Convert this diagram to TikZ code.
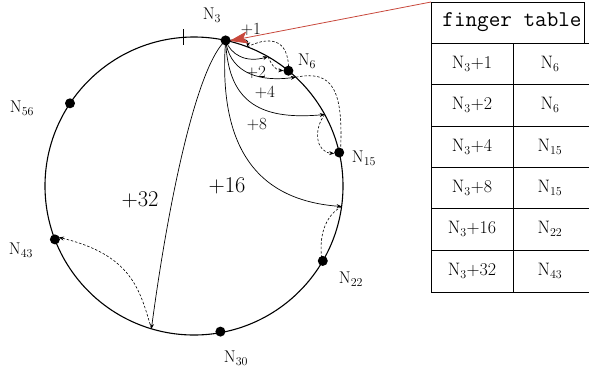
\documentclass[tikz,border=0pt]{standalone}
\usetikzlibrary{arrows.meta}
\definecolor{redline}{RGB}{200,72,60}
\begin{document}
\begin{tikzpicture}[x=1pt,y=-1pt,
  dot/.style={circle,fill=black,inner sep=0pt,minimum size=10pt},
  lab/.style={font=\fontsize{17}{19}\selectfont,inner sep=0pt},
  slab/.style={font=\fontsize{17}{19}\selectfont,inner sep=0pt},
  blab/.style={font=\fontsize{22.5}{24}\selectfont,inner sep=0pt},
  tlab/.style={font=\fontsize{18}{20}\selectfont,inner sep=0pt},
  finger/.style={line width=0.7pt,-{Stealth[length=5pt,width=4pt]}},
  hop/.style={line width=0.6pt,dashed,dash pattern=on 2.5pt off 1.8pt,-{Stealth[length=5pt,width=4pt]}},
  tline/.style={line width=0.9pt}]
\useasboundingbox (0,0) rectangle (589,376);
% ring
\draw[line width=1.1pt] (194,186) circle[radius=149];
\draw[line width=0.9pt] (183,29) -- (183,45);
% points on ring
\coordinate (c3) at (225.6,40.4);
\coordinate (c6) at (288.4,70.7);
\coordinate (c15) at (339.2,152.5);
\coordinate (c22) at (322.8,260.9);
\coordinate (c30) at (220.4,331.6);
\coordinate (c43) at (54.9,239.4);
\coordinate (c56) at (70,103.3);
\coordinate (p1) at (247.4,46.9);
\coordinate (p2) at (268,56.7);
\coordinate (p4) at (295.8,77.2);
\coordinate (p8) at (324.7,114.5);
\coordinate (p16) at (341.6,206.5);
\coordinate (p32) at (151.4,328.8);
% fingers
\draw[finger] (c3) .. controls (238,40) and (249,37) .. (p1);
\draw[finger] (c3) .. controls (231,55) and (246,63) .. (p2);
\draw[finger] (c3) .. controls (229,68) and (252,83) .. (p4);
\draw[finger] (c3) .. controls (228,98) and (255,121) .. (p8);
\draw[finger] (c3) .. controls (218,145) and (255,200) .. (p16);
\draw[finger] (c3) .. controls (198,65) and (170,190) .. (p32);
% hops
\draw[hop] (p1) .. controls (265,38) and (290,34) .. ([yshift=-5pt]c6);
\draw[hop] (p2) .. controls (272,66) and (276,70) .. ([xshift=-5pt]c6);
\draw[hop] (p4) .. controls (332,70) and (344,88) .. ([yshift=-5pt,xshift=1pt]c15);
\draw[hop] (p8) .. controls (313,130) and (316,152) .. ([xshift=-5pt,yshift=-1pt]c15);
\draw[hop] (p16) .. controls (325,216) and (318,236) .. ([yshift=-5pt]c22);
\draw[hop] (p32) .. controls (140,290) and (132,255) .. ([xshift=4pt,yshift=2pt]c43);
% red pointer
\coordinate (tl) at (431,2);
\draw[redline,line width=0.8pt,-{Stealth[length=18pt,width=12pt,inset=4pt]}] (tl) -- ([xshift=4pt,yshift=-0.5pt]c3);
% dots
\foreach \n in {c3,c6,c15,c22,c30,c43,c56} \node[dot] (d\n) at (\n) {};
% node labels
\node[lab] (l3) at (212,15) {N$_3$};
\node[lab] (l6) at (307,61) {N$_6$};
\node[lab] (l15) at (364,158) {N$_{15}$};
\node[lab] (l22) at (351,279) {N$_{22}$};
\node[lab] (l30) at (236,358) {N$_{30}$};
\node[lab] (l43) at (21,250) {N$_{43}$};
\node[lab] (l56) at (22,108) {N$_{56}$};
% finger labels
\node[slab] (f1) at (251,29) {+1};
\node[slab] (f2) at (256,72) {+2};
\node[slab] (f4) at (265,92) {+4};
\node[slab] (f8) at (257,124) {+8};
\node[blab] (f16) at (227,186) {+16};
\node[blab] (f32) at (140,200) {+32};
% table
\draw[tline] (431,2) -- (584,2) -- (584,43);
\draw[tline] (431,2) -- (431,292);
\draw[tline] (513,43) -- (513,292);
\foreach \y in {43,84,126,167,208,250,292} \draw[tline] (431,\y) -- (589,\y);
\node[font=\ttfamily\fontsize{22.5}{24}\selectfont,inner sep=0pt] (hdr) at (512,22) {finger table};
\node[tlab] (a1) at (472,64) {N$_3$+1};
\node[tlab] (b1) at (550,64) {N$_6$};
\node[tlab] (a2) at (472,105) {N$_3$+2};
\node[tlab] (b2) at (550,105) {N$_6$};
\node[tlab] (a3) at (472,147) {N$_3$+4};
\node[tlab] (b3) at (550,147) {N$_{15}$};
\node[tlab] (a4) at (472,188) {N$_3$+8};
\node[tlab] (b4) at (550,188) {N$_{15}$};
\node[tlab] (a5) at (472,229) {N$_3$+16};
\node[tlab] (b5) at (550,229) {N$_{22}$};
\node[tlab] (a6) at (472,271) {N$_3$+32};
\node[tlab] (b6) at (550,271) {N$_{43}$};
\end{tikzpicture}
\end{document}
